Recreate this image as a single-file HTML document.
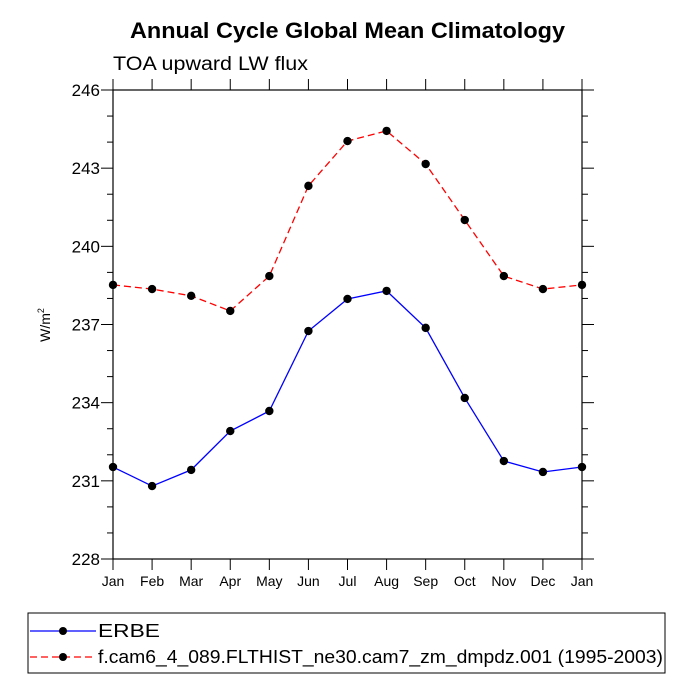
<!DOCTYPE html>
<html><head><meta charset="utf-8"><style>
body{margin:0;background:#fff;}
svg text{font-family:"Liberation Sans",Arial,sans-serif;}
</style></head><body>
<svg id="chart" width="694" height="694" viewBox="0 0 694 694">
<text x="130" y="38" textLength="435" lengthAdjust="spacingAndGlyphs" font-size="22" font-weight="bold">Annual Cycle Global Mean Climatology</text>
<text x="113" y="70" textLength="195" lengthAdjust="spacingAndGlyphs" font-size="19">TOA upward LW flux</text>
<text transform="translate(50,325) rotate(-90)" text-anchor="middle" font-size="14">W/m<tspan dy="-6" font-size="9">2</tspan></text>
<g id="axes"></g>
<g id="series"></g>
<g>
<rect x="28" y="613" width="637" height="60" fill="none" stroke="#000" stroke-width="1"/>
<line x1="30" y1="631" x2="96" y2="631" stroke="#0000ff" stroke-width="1.3"/>
<circle cx="63" cy="631" r="4" fill="#000"/>
<text x="98" y="637" textLength="62" lengthAdjust="spacingAndGlyphs" font-size="18">ERBE</text>
<line x1="30" y1="657" x2="96" y2="657" stroke="#ff0000" stroke-width="1.3" stroke-dasharray="7,4"/>
<circle cx="63" cy="657" r="4" fill="#000"/>
<text x="98" y="663" textLength="565" lengthAdjust="spacingAndGlyphs" font-size="18">f.cam6_4_089.FLTHIST_ne30.cam7_zm_dmpdz.001 (1995-2003)</text>
</g>
</svg>
<script>
const months = ["Jan","Feb","Mar","Apr","May","Jun","Jul","Aug","Sep","Oct","Nov","Dec","Jan"];
const erbe = [231.53,230.8,231.42,232.91,233.68,236.75,237.98,238.29,236.87,234.18,231.76,231.34,231.53];
const model = [238.52,238.36,238.1,237.52,238.86,242.32,244.04,244.43,243.16,241.01,238.86,238.36,238.52];
const yTicks = [228,231,234,237,240,243,246];
const NS="http://www.w3.org/2000/svg";
const L=113,R=582,T=90,B=559,yMin=228,yMax=246;
const xs=i=>L+(R-L)*i/(months.length-1);
const ys=v=>B-(v-yMin)/(yMax-yMin)*(B-T);
function mk(tag,at,parent){const e=document.createElementNS(NS,tag);for(const k in at)e.setAttribute(k,at[k]);parent.appendChild(e);return e;}
const ax=document.getElementById('axes');
const frame=mk('rect',{x:L,y:T,width:R-L,height:B-T,fill:'none',stroke:'#000','stroke-width':1.2},ax);


for(let v=yMin;v<=yMax;v++){
  const major=(v-yMin)%3===0, len=major?12:6, y=ys(v);
  mk('line',{x1:L-len,y1:y,x2:L,y2:y,stroke:'#000','stroke-width':1},ax);
  mk('line',{x1:R,y1:y,x2:R+len,y2:y,stroke:'#000','stroke-width':1},ax);
}
yTicks.forEach(v=>{
  const t=mk('text',{x:L-13,y:ys(v)+6,'text-anchor':'end','font-size':17},ax);
  t.textContent=v;
  
  
});
months.forEach((m,i)=>{
  const x=xs(i);
  mk('line',{x1:x,y1:B,x2:x,y2:B+11,stroke:'#000','stroke-width':1},ax);
  mk('line',{x1:x,y1:T,x2:x,y2:T-11,stroke:'#000','stroke-width':1},ax);
  const t=mk('text',{x:x,y:B+27,'text-anchor':'middle','font-size':14},ax);
  t.textContent=m;
  
  
});
const sg=document.getElementById('series');
function series(vals,color,dash,name){
  const p=mk('polyline',{points:vals.map((v,i)=>xs(i)+','+ys(v)).join(' '),fill:'none',stroke:color,'stroke-width':1.3,'stroke-dasharray':dash},sg);
  
  
  vals.forEach((v,i)=>{
    const c=mk('circle',{cx:xs(i),cy:ys(v),r:4.2,fill:'#000'},sg);
    
    
  });
}
series(model,'#ff0000','7,4','model');
series(erbe,'#0000ff','none','erbe');
</script>
</body></html>
